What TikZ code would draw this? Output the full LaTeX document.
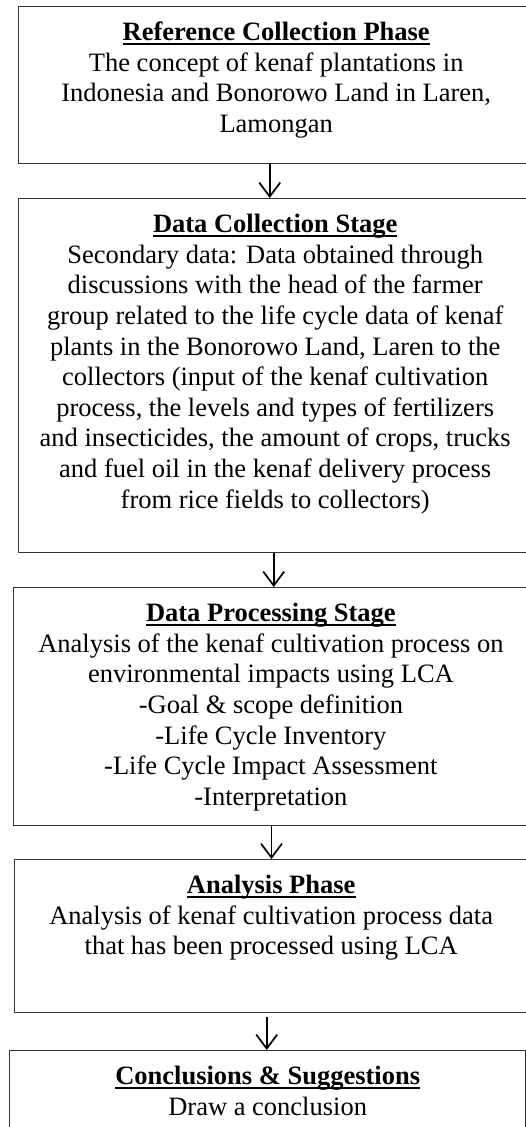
\documentclass[tikz,border=0pt]{standalone}
\usepackage{fontspec}
\setmainfont{Liberation Serif}
\usetikzlibrary{arrows.meta}
\newcommand\ulbf[1]{\leavevmode\setbox0\hbox{\textbf{#1}}\rlap{\rule[-4pt]{\wd0}{2pt}}\box0}
\tikzset{
  box/.style={draw=black!80, line width=1.4pt, fill=none, inner sep=0pt, anchor=north west},
  txt/.style={align=center, inner sep=0pt, anchor=north, font=\fontsize{26.5}{30.6}\selectfont},
  arr/.style={draw=black, line width=1.7pt, -{Straight Barb[length=14pt,width=21pt,line width=1.7pt]}}
}
\begin{document}
\begin{tikzpicture}[x=1pt,y=1pt]
\useasboundingbox (0,0) rectangle (526,-1127);
\node[box, minimum width=515pt, minimum height=157pt] (b1) at (18,-6) {};
\node[box, minimum width=513pt, minimum height=354pt] (b2) at (18,-198) {};
\node[box, minimum width=515pt, minimum height=238pt] (b3) at (12.7,-587) {};
\node[box, minimum width=513pt, minimum height=153pt] (b4) at (14,-859) {};
\node[box, minimum width=516pt, minimum height=100pt] (b5) at (9,-1050) {};

\node[txt] (t1) at ([yshift=-14.5pt]b1.north) {\rule{0pt}{20pt}\ulbf{Reference Collection Phase}\\
The concept of kenaf plantations in\\
Indonesia and Bonorowo Land in Laren,\\
Lamongan};
\node[txt] (t2) at ([yshift=-14.5pt]b2.north) {\rule{0pt}{20pt}\ulbf{Data Collection Stage}\\
Secondary data: Data obtained through\\
discussions with the head of the farmer\\
group related to the life cycle data of kenaf\\
plants in the Bonorowo Land, Laren to the\\
collectors (input of the kenaf cultivation\\
process, the levels and types of fertilizers\\
and insecticides, the amount of crops, trucks\\
and fuel oil in the kenaf delivery process\\
from rice fields to collectors)};
\node[txt] (t3) at ([yshift=-14.5pt]b3.north) {\rule{0pt}{20pt}\ulbf{Data Processing Stage}\\
Analysis of the kenaf cultivation process on\\
environmental impacts using LCA\\
-Goal \& scope definition\\
-Life Cycle Inventory\\
-Life Cycle Impact Assessment\\
-Interpretation};
\node[txt] (t4) at ([yshift=-14.5pt]b4.north) {\rule{0pt}{20pt}\ulbf{Analysis Phase}\\
Analysis of kenaf cultivation process data\\
that has been processed using LCA};
\node[txt] (t5) at ([yshift=-14.5pt]b5.north) {\rule{0pt}{20pt}\ulbf{Conclusions \& Suggestions}\\
Draw a conclusion};

\draw[arr] ([xshift=-6.5pt]b1.south) -- ([xshift=-6.5pt]b1.south |- b2.north);
\draw[arr] ([xshift=-1.5pt]b2.south) -- ([xshift=-1.5pt]b2.south |- b3.north);
\draw[arr] ([xshift=0.6pt]b3.south) -- ([xshift=0.6pt]b3.south |- b4.north);
\draw[arr] ([xshift=-4.5pt,yshift=-4pt]b4.south) -- ([xshift=-4.5pt]b4.south |- b5.north);
\end{tikzpicture}
\end{document}
